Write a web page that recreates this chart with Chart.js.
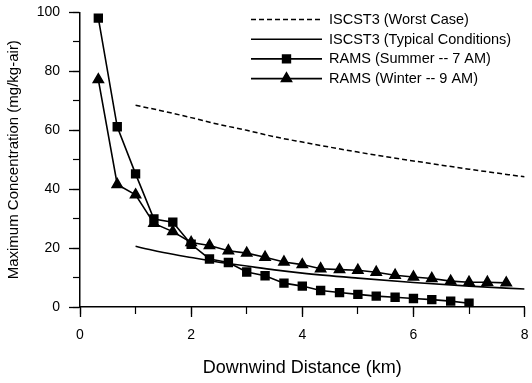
<!DOCTYPE html>
<html>
<head>
<meta charset="utf-8">
<script src="https://cdn.jsdelivr.net/npm/chart.js@4/dist/chart.umd.min.js"></script>
<style>
  html, body { margin: 0; padding: 0; background: #fff; }
  #wrap { width: 532px; height: 383px; position: relative; }
</style>
</head>
<body>
<div id="wrap"><canvas id="c" width="532" height="383"></canvas></div>
<script>
// ---- data ----
const worstDist   = [1.0, 1.5, 2.0, 2.5, 3.0, 3.5, 4.0, 5.0, 6.0, 7.0, 8.0];
const worstConc   = [68.5, 66.5, 64.3, 62.0, 60.0, 57.8, 56.0, 52.6, 49.6, 46.8, 44.2];

const typicalDist = [1.0, 1.25, 1.5, 2.0, 2.5, 3.0, 3.5, 4.0, 5.0, 6.0, 7.0, 8.0];
const typicalConc = [20.6, 19.5, 18.5, 16.8, 15.2, 13.9, 12.6, 11.5, 9.8, 8.3, 7.1, 6.1];

const summerDist  = [0.33, 0.67, 1.0, 1.33, 1.67, 2.0, 2.33, 2.67, 3.0, 3.33, 3.67,
                     4.0, 4.33, 4.67, 5.0, 5.33, 5.67, 6.0, 6.33, 6.67, 7.0];
const summerConc  = [98.1, 61.2, 45.2, 29.9, 28.8, 21.3, 16.3, 15.1, 11.9, 10.6, 8.1,
                     7.1, 5.6, 4.9, 4.3, 3.7, 3.3, 2.9, 2.5, 2.0, 1.3];

const winterDist  = [0.33, 0.67, 1.0, 1.33, 1.67, 2.0, 2.33, 2.67, 3.0, 3.33, 3.67,
                     4.0, 4.33, 4.67, 5.0, 5.33, 5.67, 6.0, 6.33, 6.67, 7.0, 7.33, 7.67];
const winterConc  = [77.2, 41.6, 38.1, 28.4, 25.6, 21.9, 20.9, 19.1, 18.3, 16.9, 15.3,
                     14.4, 13.0, 12.7, 12.5, 11.8, 10.8, 10.2, 9.7, 8.8, 8.4, 8.4, 8.2];

const seriesNames = ['ISCST3 (Worst Case)', 'ISCST3 (Typical Conditions)',
                     'RAMS (Summer -- 7 AM)', 'RAMS (Winter -- 9 AM)'];
const xTitle = 'Downwind Distance (km)';
const yTitle = 'Maximum Concentration (mg/kg-air)';
const xRange = [0, 8];
const yRange = [0, 100];

const FONT = '"Liberation Sans", Arial, Helvetica, sans-serif';
const pts = (xs, ys) => xs.map((x, i) => ({ x: x, y: ys[i] }));

const legendPlugin = {
  id: 'customLegend',
  afterDraw(chart) {
    const ctx = chart.ctx;
    const x0 = 251, x1 = 322, xm = 286.5, xt = 329;
    const rows = [19.5, 39.2, 58.9, 78.6];
    chart.data.datasets.forEach((ds, i) => {
      const y = rows[i];
      ctx.save();
      ctx.strokeStyle = '#000';
      ctx.lineWidth = ds.borderWidth;
      ctx.setLineDash(ds.borderDash || []);
      ctx.beginPath();
      ctx.moveTo(x0, y); ctx.lineTo(x1, y);
      ctx.stroke();
      ctx.setLineDash([]);
      if (ds.pointRadius > 0) {
        Chart.helpers.drawPoint(ctx, {
          pointStyle: ds.pointStyle, radius: ds.pointRadius, borderWidth: 1, rotation: 0
        }, xm, y);
        ctx.fillStyle = '#000';
        ctx.fill();
      }
      ctx.fillStyle = '#000';
      ctx.font = '14.5px ' + FONT;
      ctx.textBaseline = 'middle';
      ctx.textAlign = 'left';
      ctx.fillText(ds.label, xt, y + 0.5);
      ctx.restore();
    });
  }
};

const common = { fill: false, borderColor: '#000', backgroundColor: '#000', tension: 0,
                 xAxisID: 'x', yAxisID: 'y' };
const noPadX = s => { s.paddingLeft = 0; s.paddingRight = 0; };
const noPadY = s => { s.paddingTop = 0; s.paddingBottom = 0; };

new Chart(document.getElementById('c'), {
  type: 'line',
  data: {
    datasets: [
      Object.assign({}, common, { label: seriesNames[0], data: pts(worstDist, worstConc),
        borderWidth: 1.5, borderDash: [5, 3], pointRadius: 0, cubicInterpolationMode: 'monotone', tension: 0.4 }),
      Object.assign({}, common, { label: seriesNames[1], data: pts(typicalDist, typicalConc),
        borderWidth: 1.6, pointRadius: 0, cubicInterpolationMode: 'monotone', tension: 0.4 }),
      Object.assign({}, common, { label: seriesNames[2], data: pts(summerDist, summerConc),
        borderWidth: 1.6, pointStyle: 'rect', pointRadius: 5.5 }),
      Object.assign({}, common, { label: seriesNames[3], data: pts(winterDist, winterConc),
        borderWidth: 1.6, pointStyle: 'triangle', pointRadius: 5.8 })
    ]
  },
  options: {
    responsive: false,
    animation: false,
    devicePixelRatio: 1,
    layout: { padding: { top: 12.5, right: 6, left: 0, bottom: 0 } },
    plugins: { legend: { display: false }, tooltip: { enabled: false } },
    elements: { point: { borderColor: '#000', backgroundColor: '#000', hoverRadius: 0 } },
    scales: {
      x: {
        type: 'linear', position: 'bottom', weight: 1,
        min: xRange[0], max: xRange[1],
        ticks: { stepSize: 2, color: '#000', padding: 10, maxRotation: 0,
                 font: { family: FONT, size: 14 } },
        grid: { drawOnChartArea: false, drawTicks: true, tickLength: 10, tickColor: '#000', tickWidth: 1.3 },
        border: { display: true, color: '#000', width: 1.5 },
        title: { display: true, text: xTitle, color: '#000',
                 font: { family: FONT, size: 18 }, padding: { top: 0, bottom: 4 } },
        afterFit(s) { s.height = 76; noPadX(s); }
      },
      x2: {
        type: 'linear', position: 'bottom', weight: 0,
        min: xRange[0], max: xRange[1],
        ticks: { stepSize: 1, display: false },
        grid: { drawOnChartArea: false, drawTicks: true, tickLength: 7, tickColor: '#000', tickWidth: 1.2 },
        border: { display: false },
        afterFit(s) { s.height = 0; noPadX(s); }
      },
      y: {
        type: 'linear', position: 'left', weight: 1,
        min: yRange[0], max: yRange[1],
        ticks: { stepSize: 20, color: '#000', padding: 9,
                 font: { family: FONT, size: 14 } },
        grid: { drawOnChartArea: false, drawTicks: true, tickLength: 11, tickColor: '#000', tickWidth: 1.3 },
        border: { display: true, color: '#000', width: 1.5 },
        title: { display: true, text: yTitle, color: '#000',
                 font: { family: FONT, size: 15 }, padding: { top: 5, bottom: 0 } },
        afterFit(s) { s.width = 80; noPadY(s); }
      },
      y2: {
        type: 'linear', position: 'left', weight: 0,
        min: yRange[0], max: yRange[1],
        ticks: { stepSize: 10, display: false },
        grid: { drawOnChartArea: false, drawTicks: true, tickLength: 7, tickColor: '#000', tickWidth: 1.2 },
        border: { display: false },
        afterFit(s) { s.width = 0; noPadY(s); }
      }
    }
  },
  plugins: [legendPlugin]
});
</script>
</body>
</html>
